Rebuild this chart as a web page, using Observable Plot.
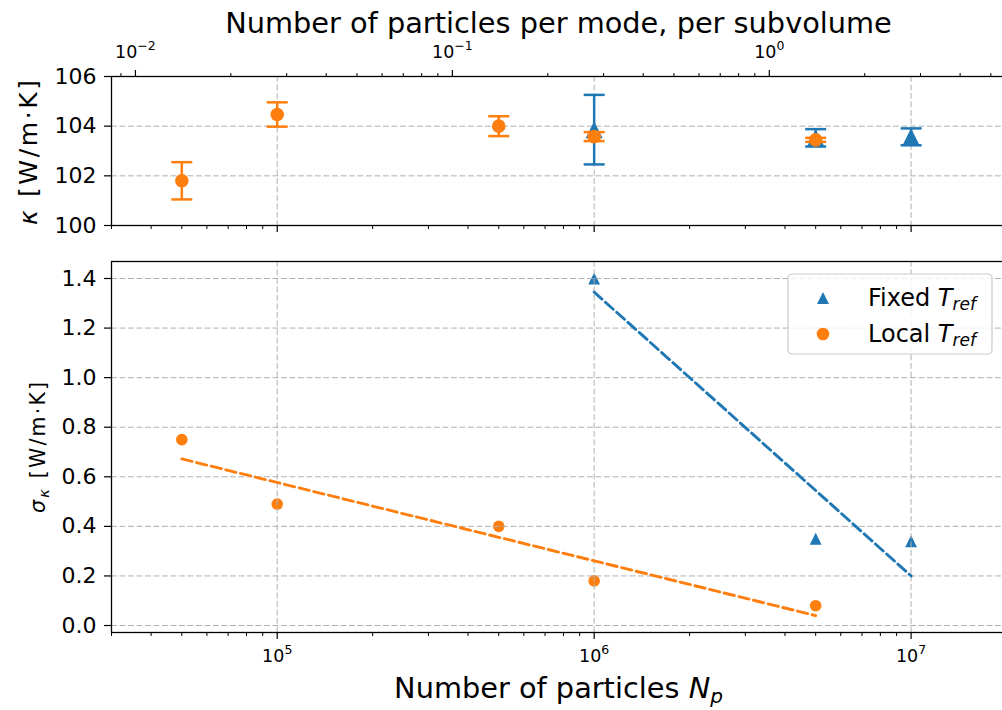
<!DOCTYPE html>
<html><head><meta charset="utf-8">
<script src="https://cdn.jsdelivr.net/npm/d3@7"></script>
<script src="https://cdn.jsdelivr.net/npm/@observablehq/plot@0.6"></script>
<style>
html,body{margin:0;padding:0;background:#fff;overflow:hidden;}
#wrap{position:relative;width:1002px;height:710px;overflow:hidden;font-family:"DejaVu Sans",sans-serif;background:#fff;}
#wrap svg{display:block;max-width:none !important;}
</style></head><body><div id="wrap"></div>
<script>
// ---------------- data ----------------
const localN = [5e4, 1e5, 5e5, 1e6, 5e6];
const localKappa = [101.8, 104.47, 104.0, 103.58, 103.45];
const localSigma = [0.75, 0.49, 0.40, 0.18, 0.08];
const fixedN = [1e6, 5e6, 1e7];
const fixedKappa = [103.86, 103.53, 103.57];
const fixedSigma = [1.40, 0.35, 0.34];
const localFitN = [5e4, 5e6];
const localFitSigma = [0.672, 0.040];
const fixedFitN = [1e6, 1e7];
const fixedFitSigma = [1.345, 0.20];
const particlesPerModeFactor = 3.57e6; // N giving 1 particle per mode, per subvolume
const xMajorTicks = [1e5, 1e6, 1e7];
const xMinorTicks = [3e4,4e4,5e4,6e4,7e4,8e4,9e4,2e5,3e5,4e5,5e5,6e5,7e5,8e5,9e5,2e6,3e6,4e6,5e6,6e6,7e6,8e6,9e6,2e7];
const topMajorTicks = [1e-2, 1e-1, 1e0];
const topMinorTicks = [0.009,0.02,0.03,0.04,0.05,0.06,0.07,0.08,0.09,0.2,0.3,0.4,0.5,0.6,0.7,0.8,0.9,2,3,4,5];
const kappaTicks = [100, 102, 104, 106];
const sigmaTicks = [0, 0.2, 0.4, 0.6, 0.8, 1.0, 1.2, 1.4];
const seriesLabels = ["Fixed", "Local"];

// ---------------- styling ----------------
const BLUE = "#1f77b4", ORANGE = "#ff7f0e";
const GRID = {stroke: "#b0b0b0", strokeOpacity: 1, strokeWidth: 1, strokeDasharray: "5.9,2.6"};
const triSym = {draw(ctx, size) { const r = Math.sqrt(size / Math.PI); ctx.moveTo(0, -r); ctx.lineTo(r, r); ctx.lineTo(-r, r); ctx.closePath(); }};
const capSym = {draw(ctx, size) { const r = Math.sqrt(size / Math.PI); ctx.moveTo(-r, 0); ctx.lineTo(r, 0); }};

const localRows = localN.map((n, i) => ({N: n, kappa: localKappa[i], sigma: localSigma[i]}));
const fixedRows = fixedN.map((n, i) => ({N: n, kappa: fixedKappa[i], sigma: fixedSigma[i]}));
const localFit = localFitN.map((n, i) => ({N: n, sigma: localFitSigma[i]}));
const fixedFit = fixedFitN.map((n, i) => ({N: n, sigma: fixedFitSigma[i]}));

const common = {
  width: 1007, marginLeft: 111, marginRight: 1,
  x: {type: "log", domain: [3e4, 2e7]},
  style: {fontFamily: "DejaVu Sans", color: "#000", background: "transparent", overflow: "visible"}
};
const expFmt = v => "10^" + String(Math.round(Math.log10(v))).replace("-", "\u2212");

function errMarks(rows, color, symbol, r) {
  return [
    Plot.ruleX(rows, {x: "N", y1: d => d.kappa - d.sigma, y2: d => d.kappa + d.sigma, stroke: color, strokeWidth: 2.5}),
    Plot.dot(rows, {x: "N", y: d => d.kappa - d.sigma, symbol: capSym, r: 10.5, stroke: color, strokeWidth: 2.5, fill: "none"}),
    Plot.dot(rows, {x: "N", y: d => d.kappa + d.sigma, symbol: capSym, r: 10.5, stroke: color, strokeWidth: 2.5, fill: "none"}),
    Plot.dot(rows, {x: "N", y: "kappa", symbol, r, fill: color, stroke: "none"})
  ];
}

const topPlot = Plot.plot({
  ...common,
  height: 243, marginTop: 76, marginBottom: 18,
  y: {domain: [100, 106]},
  marks: [
    Plot.gridX(xMajorTicks, GRID),
    Plot.gridY(kappaTicks, GRID),
    ...errMarks(fixedRows, BLUE, triSym, 8.5),
    ...errMarks(localRows, ORANGE, "circle", 6.8),
    Plot.frame({stroke: "#000", strokeWidth: 1.3}),
    Plot.axisY(kappaTicks, {tickSize: 7, tickPadding: 8, strokeWidth: 1.2, label: null}),
    Plot.axisX(xMajorTicks, {anchor: "bottom", tickSize: 7, strokeWidth: 1.2, tickFormat: () => "", label: null}),
    Plot.axisX(xMinorTicks, {anchor: "bottom", tickSize: 4, strokeWidth: 1, tickFormat: () => "", label: null}),
    Plot.axisX(topMajorTicks.map(v => v * particlesPerModeFactor), {anchor: "top", tickSize: 7, tickPadding: 12, strokeWidth: 1.2,
      tickFormat: v => expFmt(v / particlesPerModeFactor), label: null}),
    Plot.axisX(topMinorTicks.map(v => v * particlesPerModeFactor), {anchor: "top", tickSize: 4, strokeWidth: 1, tickFormat: () => "", label: null})
  ]
});

const bottomPlot = Plot.plot({
  ...common,
  height: 467, marginTop: 18, marginBottom: 78,
  y: {domain: [-0.0282, 1.4686]},
  marks: [
    Plot.dot(fixedRows, {x: "N", y: "sigma", symbol: triSym, r: 5.9, fill: BLUE, stroke: "none"}),
    Plot.dot(localRows, {x: "N", y: "sigma", symbol: "circle", r: 5.8, fill: ORANGE, stroke: "none"}),
    Plot.gridX(xMajorTicks, GRID),
    Plot.gridY(sigmaTicks, GRID),
    Plot.line(fixedFit, {x: "N", y: "sigma", stroke: BLUE, strokeWidth: 2.9, strokeDasharray: "10.5,4.6"}),
    Plot.line(localFit, {x: "N", y: "sigma", stroke: ORANGE, strokeWidth: 2.9, strokeDasharray: "10.5,4.6"}),
    Plot.frame({stroke: "#000", strokeWidth: 1.3}),
    Plot.axisY(sigmaTicks, {tickSize: 7, tickPadding: 8, strokeWidth: 1.2, tickFormat: d3.format(".1f"), label: null}),
    Plot.axisX(xMajorTicks, {anchor: "bottom", tickSize: 7, tickPadding: 10, strokeWidth: 1.2, tickFormat: expFmt, label: null}),
    Plot.axisX(xMinorTicks, {anchor: "bottom", tickSize: 4, strokeWidth: 1, tickFormat: () => "", label: null})
  ]
});

function fixTicks(svg) {
  const s = d3.select(svg);
  s.selectAll('g[aria-label="y-axis tick label"], g[aria-label="y-axis tick label"] text').attr("font-size", 22);
  s.selectAll('g[aria-label="x-axis tick label"], g[aria-label="x-axis tick label"] text').attr("font-size", 17.5);
  s.selectAll("text").each(function() {
    const m = /^10\^(.+)$/.exec(this.textContent);
    if (!m) return;
    while (this.firstChild) this.removeChild(this.firstChild);
    this.appendChild(document.createTextNode("10"));
    d3.select(this).append("tspan").attr("font-size", 12.5).attr("dy", -7.5).text(m[1]);
  });
}
fixTicks(topPlot);
fixTicks(bottomPlot);

// titles / labels
const ts = d3.select(topPlot);
ts.append("text").attr("x", 558.5).attr("y", 33).attr("text-anchor", "middle")
  .attr("font-size", 28.8).attr("fill", "#000").text("Number of particles per mode, per subvolume");
const yl1 = ts.append("text").attr("transform", "translate(36.5,152.5) rotate(-90)").attr("text-anchor", "middle")
  .attr("font-size", 25).attr("fill", "#000").attr("textLength", 145).attr("lengthAdjust", "spacing");
yl1.append("tspan").attr("font-style", "italic").text("\u03ba");
yl1.append("tspan").text(" [W/m\u00b7K]");

const bs = d3.select(bottomPlot);
const xl = bs.append("text").attr("x", 558.5).attr("y", 455).attr("text-anchor", "middle")
  .attr("font-size", 28.8).attr("fill", "#000");
xl.append("tspan").text("Number of particles ");
xl.append("tspan").attr("font-style", "italic").text("N");
xl.append("tspan").attr("font-style", "italic").attr("font-size", 20).attr("dy", 5).text("p");
const yl2 = bs.append("text").attr("transform", "translate(45,204.4) rotate(-90)").attr("text-anchor", "middle")
  .attr("font-size", 20.5).attr("fill", "#000").attr("textLength", 131).attr("lengthAdjust", "spacing");
yl2.append("tspan").attr("font-style", "italic").text("\u03c3");
yl2.append("tspan").attr("font-style", "italic").attr("font-size", 14.5).attr("dy", 4).text("\u03ba");
yl2.append("tspan").attr("dy", -4).text(" [W/m\u00b7K]");

// legend
const lg = bs.append("g").attr("transform", "translate(788,31)");
lg.append("rect").attr("width", 204).attr("height", 80).attr("rx", 4)
  .attr("fill", "#fff").attr("fill-opacity", 0.8).attr("stroke", "#cccccc").attr("stroke-width", 1.2);
const legendItems = [
  {name: seriesLabels[0], color: BLUE, sym: triSym, r: 6},
  {name: seriesLabels[1], color: ORANGE, sym: d3.symbolCircle, r: 6.3}
];
legendItems.forEach((it, i) => {
  const cy = 24 + i * 36;
  lg.append("path").attr("transform", `translate(35,${cy})`)
    .attr("d", d3.symbol(it.sym, Math.PI * it.r * it.r)()).attr("fill", it.color);
  const t = lg.append("text").attr("x", 80).attr("y", cy + 8).attr("text-anchor", "start")
    .attr("font-size", 24).attr("fill", "#000");
  t.append("tspan").text(it.name + " ");
  t.append("tspan").attr("font-style", "italic").text("T");
  t.append("tspan").attr("font-style", "italic").attr("font-size", 17).attr("dy", 4).text("ref");
});

const wrap = document.getElementById("wrap");
wrap.appendChild(topPlot);
wrap.appendChild(bottomPlot);
</script></body></html>
